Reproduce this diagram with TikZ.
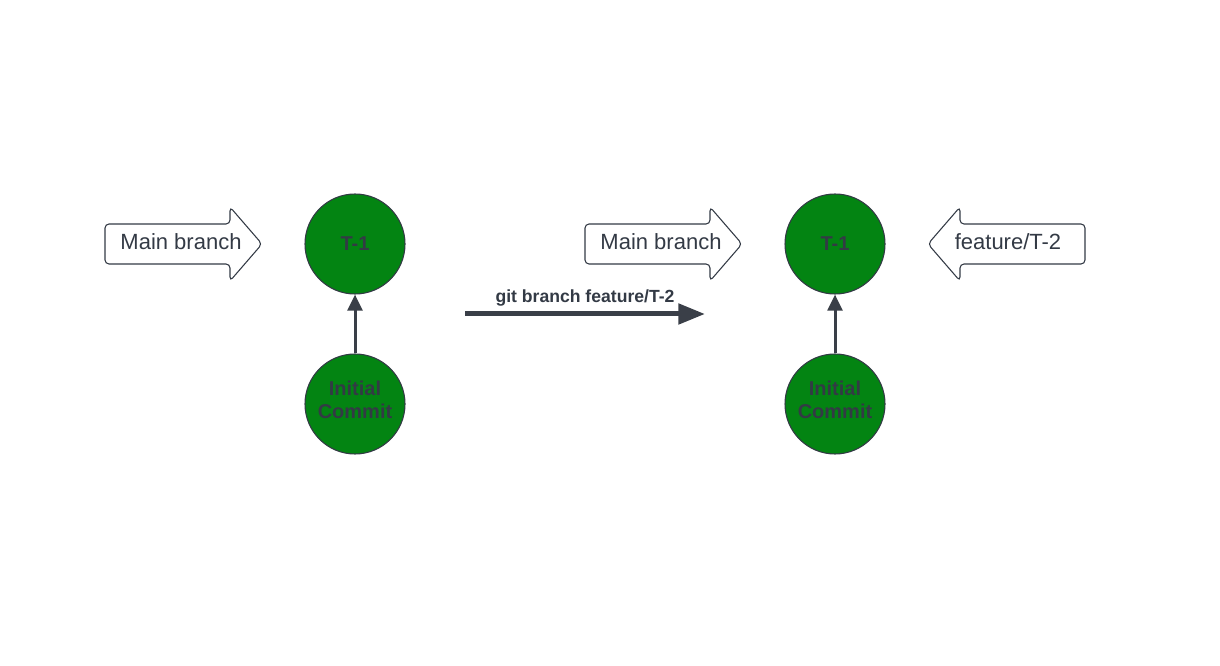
\documentclass[tikz,border=0pt]{standalone}
\usepackage{fontspec}
\setmainfont{Liberation Sans}
\usetikzlibrary{arrows.meta}
\definecolor{commitgreen}{RGB}{3,132,18}
\definecolor{inkgray}{RGB}{58,63,72}
\definecolor{textgray}{RGB}{51,58,69}
\tikzset{
  commit/.style={circle, draw=textgray, line width=0.8pt, fill=commitgreen,
    minimum size=75pt, inner sep=0pt, align=center, text=textgray,
    font=\fontsize{15}{17.25}\selectfont\bfseries},
  blockarrow/.style={draw=textgray, line width=0.8pt, fill=white, rounded corners=3pt},
  branchtext/.style={anchor=base, inner sep=0pt, text=textgray,
    font=\fontsize{16.5}{19}\selectfont},
  parent/.style={draw=inkgray, line width=2.25pt, -{Triangle[length=12pt,width=11pt]}},
  gitarrow/.style={draw=inkgray, line width=3.75pt, -{Triangle[length=20pt,width=15pt]}}
}
\begin{document}
\begin{tikzpicture}[x=0.75pt, y=-0.75pt]
  \useasboundingbox (0,0) rectangle (1220,666);
  %   %   %   %   %   %   %   %   %   %   %
  %   Before: main branch only
    \draw[blockarrow] (105,224) -- (230,224) -- (230,207) -- (262,244) -- (230,281)
      -- (230,264) -- (105,264) -- cycle;
    \node[branchtext] (mainA) at (181,250) {Main branch};
    \node[commit] (tA) at (355,244) {T-1};
    \node[commit] (initA) at (355,404) {Initial\\Commit\\[-11.25pt]};
    \draw[parent] (initA) -- (tA);
  %   %   %   %   %   %   %   %   %   %   %
  %   Command
    \coordinate (gitstart) at (465,314);
    \coordinate (gitend) at (705,314);
    \draw[gitarrow] (gitstart) -- (gitend)
      node[midway, anchor=base, yshift=8.25pt, inner sep=0pt, text=textgray,
        font=\fontsize{13.2}{15}\selectfont\bfseries] (gitlabel) {git branch feature/T-2};
  %   %   %   %   %   %   %   %   %   %   %
  %   After: main branch and feature/T-2
    \draw[blockarrow] (585,224) -- (710,224) -- (710,207) -- (742,244) -- (710,281)
      -- (710,264) -- (585,264) -- cycle;
    \node[branchtext] (mainB) at (661,250) {Main branch};
    \node[commit] (tB) at (835,244) {T-1};
    \node[commit] (initB) at (835,404) {Initial\\Commit\\[-11.25pt]};
    \draw[parent] (initB) -- (tB);
    \draw[blockarrow] (1085,224) -- (960,224) -- (960,207) -- (928,244) -- (960,281)
      -- (960,264) -- (1085,264) -- cycle;
    \node[branchtext] (featB) at (1008,250) {feature/T-2};
\end{tikzpicture}
\end{document}
